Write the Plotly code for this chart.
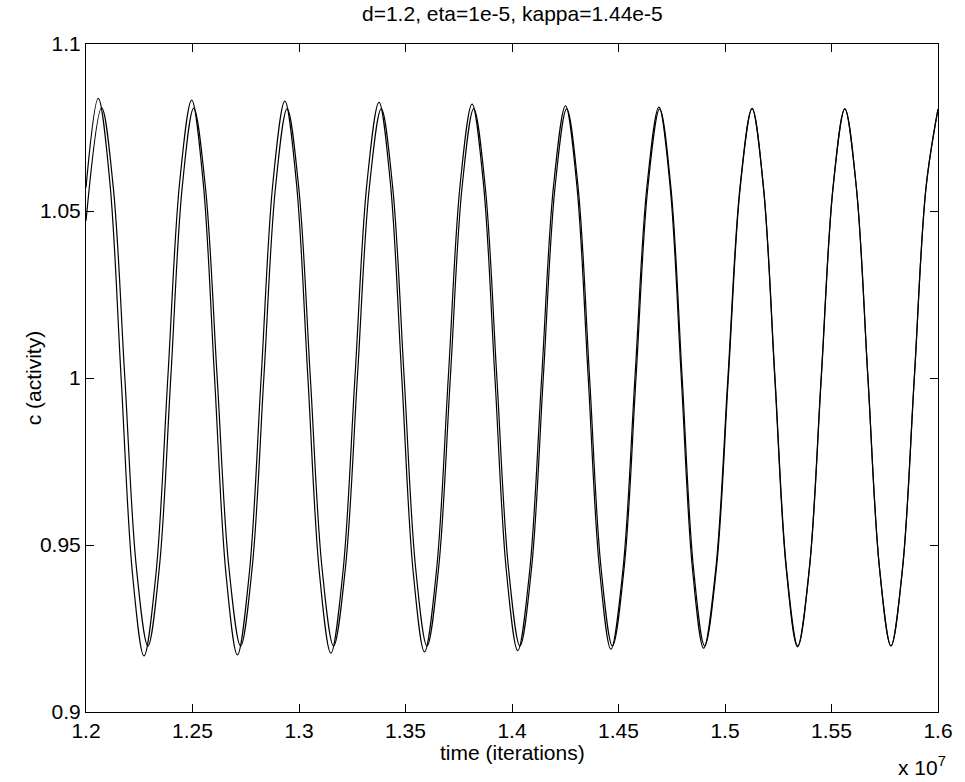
import plotly.graph_objects as go

# ---- data (time in units of 1e7 iterations, c = activity) ----
time_a = [1.20000, 1.20574,
          1.21111, 1.21648, 1.22184, 1.22721,
          1.23281, 1.23841, 1.24401, 1.24961,
          1.25498, 1.26035, 1.26571, 1.27108,
          1.27665, 1.28222, 1.28778, 1.29335,
          1.29875, 1.30416, 1.30956, 1.31496,
          1.32061, 1.32626, 1.33190, 1.33755,
          1.34289, 1.34824, 1.35358, 1.35892,
          1.36450, 1.37008, 1.37566, 1.38124,
          1.38661, 1.39197, 1.39734, 1.40270,
          1.40830, 1.41391, 1.41951, 1.42511,
          1.43044, 1.43578, 1.44111, 1.44644,
          1.45208, 1.45771, 1.46335, 1.46898,
          1.47423, 1.47948, 1.48473, 1.48998,
          1.49566, 1.50135, 1.50703, 1.51271,
          1.51804, 1.52338, 1.52871, 1.53404,
          1.53960, 1.54515, 1.55071, 1.55626,
          1.56167, 1.56709, 1.57250, 1.57791,
          1.58340, 1.58889, 1.59437, 1.60000]
c_a = [1.0570, 1.0837,
       1.05926, 1.00025, 0.94124, 0.9168,
       0.94117, 1.00000, 1.05883, 1.0832,
       1.05888, 1.00015, 0.94142, 0.9171,
       0.94138, 1.00000, 1.05862, 1.0829,
       1.05869, 1.00025, 0.94181, 0.9176,
       0.94175, 1.00005, 1.05835, 1.0825,
       1.05841, 1.00025, 0.94209, 0.9180,
       0.94202, 1.00000, 1.05798, 1.0820,
       1.05804, 1.00020, 0.94236, 0.9184,
       0.94229, 0.99995, 1.05761, 1.0815,
       1.05767, 1.00015, 0.94263, 0.9188,
       0.94257, 0.99995, 1.05733, 1.0811,
       1.05738, 1.00010, 0.94282, 0.9191,
       0.94277, 0.99990, 1.05703, 1.0807,
       1.05709, 1.00010, 0.94311, 0.9195,
       0.94309, 1.00005, 1.05701, 1.0806,
       1.05705, 1.00020, 0.94335, 0.9198,
       0.94333, 1.00015, 1.05697, 1.0805]

time_b = [1.20000, 1.20733,
          1.21277, 1.21820, 1.22364, 1.22908,
          1.23445, 1.23982, 1.24518, 1.25055,
          1.25606, 1.26157, 1.26707, 1.27258,
          1.27804, 1.28350, 1.28896, 1.29442,
          1.29987, 1.30532, 1.31077, 1.31622,
          1.32182, 1.32742, 1.33302, 1.33862,
          1.34399, 1.34936, 1.35472, 1.36009,
          1.36558, 1.37106, 1.37655, 1.38203,
          1.38746, 1.39288, 1.39831, 1.40373,
          1.40922, 1.41470, 1.42019, 1.42567,
          1.43104, 1.43641, 1.44177, 1.44714,
          1.45268, 1.45823, 1.46377, 1.46931,
          1.47460, 1.47988, 1.48517, 1.49045,
          1.49602, 1.50158, 1.50715, 1.51271,
          1.51808, 1.52345, 1.52881, 1.53418,
          1.53970, 1.54522, 1.55074, 1.55626,
          1.56167, 1.56709, 1.57250, 1.57791,
          1.58340, 1.58889, 1.59437, 1.60000]
c_b = [1.0470, 1.0809,
       1.05731, 1.00035, 0.94339, 0.9198,
       0.94336, 1.00025, 1.05714, 1.0807,
       1.05714, 1.00025, 0.94336, 0.9198,
       0.94335, 1.00020, 1.05705, 1.0806,
       1.05705, 1.00020, 0.94335, 0.9198,
       0.94335, 1.00020, 1.05705, 1.0806,
       1.05705, 1.00020, 0.94335, 0.9198,
       0.94335, 1.00020, 1.05705, 1.0806,
       1.05705, 1.00020, 0.94335, 0.9198,
       0.94335, 1.00020, 1.05705, 1.0806,
       1.05705, 1.00020, 0.94335, 0.9198,
       0.94335, 1.00020, 1.05705, 1.0806,
       1.05705, 1.00020, 0.94335, 0.9198,
       0.94335, 1.00020, 1.05705, 1.0806,
       1.05705, 1.00020, 0.94335, 0.9198,
       0.94335, 1.00020, 1.05705, 1.0806,
       1.05705, 1.00020, 0.94335, 0.9198,
       0.94335, 1.00015, 1.05697, 1.0805]

x_tick_vals = [1.2, 1.25, 1.3, 1.35, 1.4, 1.45, 1.5, 1.55, 1.6]
x_tick_text = ["1.2", "1.25", "1.3", "1.35", "1.4", "1.45", "1.5", "1.55", "1.6"]
y_tick_vals = [0.9, 0.95, 1.0, 1.05, 1.1]
y_tick_text = ["0.9", "0.95", "1", "1.05", "1.1"]

title_text = "d=1.2, eta=1e-5, kappa=1.44e-5"
x_title = "time (iterations)"
y_title = "c (activity)"
x_exponent = "x 10<sup>7</sup>"

# ---- figure ----
fig = go.Figure()
for tx, cy in ((time_a, c_a), (time_b, c_b)):
    fig.add_trace(go.Scatter(
        x=tx, y=cy, mode="lines",
        line=dict(color="black", width=1.2, shape="spline", smoothing=1.0),
        showlegend=False, hoverinfo="skip"))

FONT = "Liberation Sans, Arial, Helvetica, sans-serif"
fig.update_layout(
    width=965, height=782,
    margin=dict(l=86, r=22, t=44, b=70),
    paper_bgcolor="white", plot_bgcolor="white",
    font=dict(family=FONT, size=21, color="black"),
    showlegend=False,
)
axis_style = dict(ticks="inside", ticklen=8, tickwidth=1, tickcolor="black",
                  showline=True, linecolor="black", linewidth=1, mirror="ticks",
                  showgrid=False, zeroline=False,
                  tickfont=dict(family=FONT, size=21, color="black"))
fig.update_xaxes(range=[1.2, 1.6], tickvals=x_tick_vals, ticktext=x_tick_text, **axis_style)
fig.update_yaxes(range=[0.9, 1.1], tickvals=y_tick_vals, ticktext=y_tick_text, **axis_style)

H = 668.0
W = 857.0
def py(pix):
    return (712.0 - pix) / H
def px(pix):
    return (pix - 86.0) / W

fig.add_annotation(text=title_text, xref="paper", yref="paper", x=0.5, y=py(13),
                   xanchor="center", yanchor="middle", showarrow=False,
                   font=dict(family=FONT, size=21, color="black"))
fig.add_annotation(text=x_title, xref="paper", yref="paper", x=0.5, y=py(752),
                   xanchor="center", yanchor="middle", showarrow=False,
                   font=dict(family=FONT, size=21, color="black"))
fig.add_annotation(text=y_title, xref="paper", yref="paper", x=px(33), y=0.5,
                   xanchor="center", yanchor="middle", textangle=-90, showarrow=False,
                   font=dict(family=FONT, size=21, color="black"))
fig.add_annotation(text=x_exponent, xref="paper", yref="paper", x=px(953), y=py(766),
                   xanchor="right", yanchor="middle", showarrow=False,
                   font=dict(family=FONT, size=21, color="black"))

fig.write_html("out.html")
